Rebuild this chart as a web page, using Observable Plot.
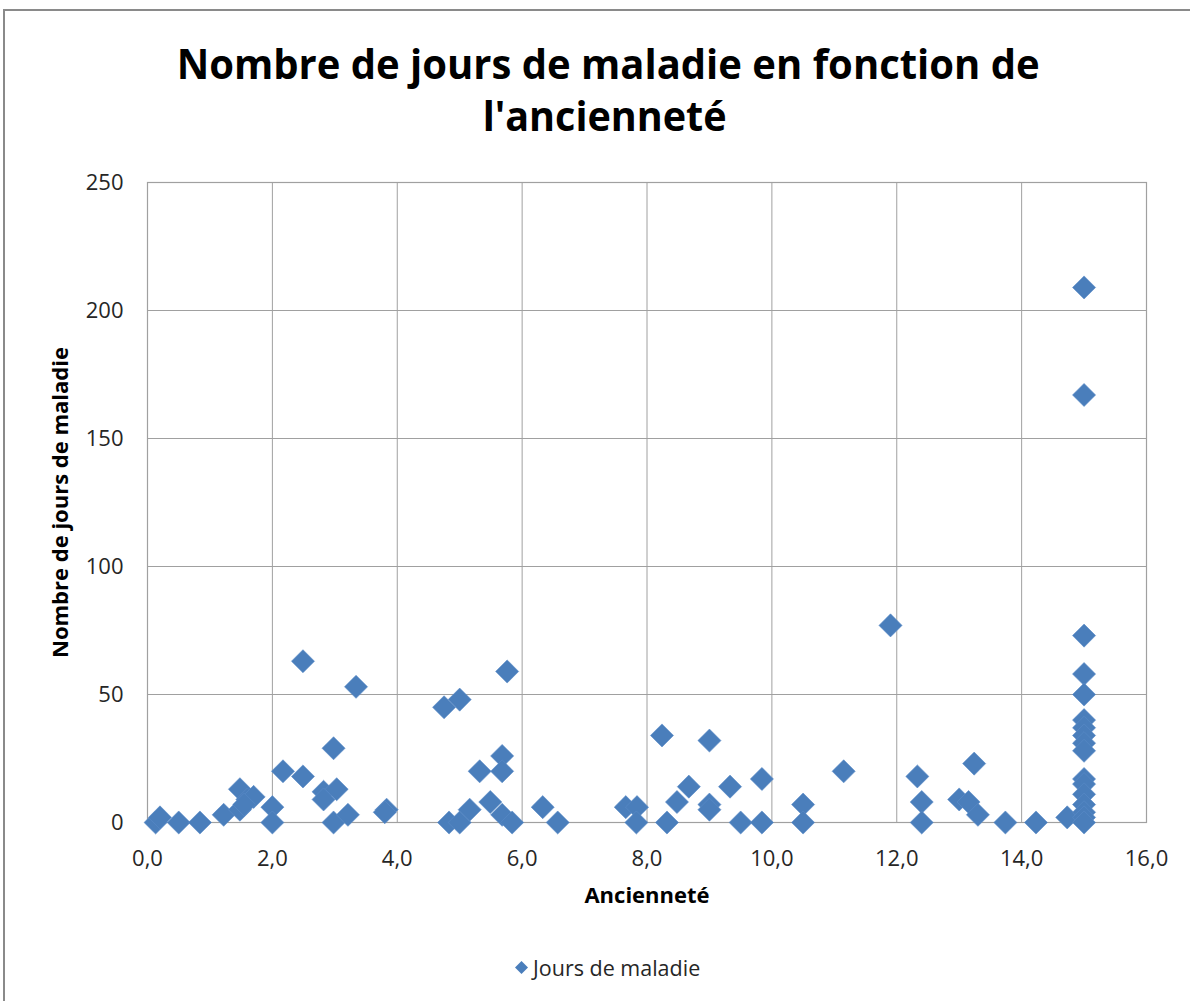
<!DOCTYPE html>
<html>
<head>
<meta charset="utf-8">
<script src="https://cdn.jsdelivr.net/npm/d3@7"></script>
<script src="https://cdn.jsdelivr.net/npm/@observablehq/plot@0.6"></script>
<style>
  html, body { margin: 0; padding: 0; background: #fff; }
  #wrap { position: relative; width: 1190px; height: 1001px; overflow: hidden; font-family: "Open Sans", sans-serif; }
  #border { position: absolute; left: 3px; top: 9px; width: 1200px; height: 1010px; border-left: 2px solid #8a8a8a; border-top: 2px solid #8a8a8a; box-sizing: border-box; }
  #head { position: relative; height: 160px; }
  .tline { position: absolute; left: 0; width: 1190px; text-align: center; font-weight: 700; font-size: 42px; line-height: 52px; color: #000; white-space: nowrap; }
  .tline span { display: inline-block; transform-origin: center center; }
  #legend { position: relative; height: 61px; }
  #legend .item { position: absolute; left: 514px; top: 13px; display: flex; align-items: center; font-size: 21.5px; color: #262626; }
  #legend svg { margin-right: 4px; }
</style>
</head>
<body>
<div id="wrap">
  <div id="border"></div>
  <div id="head">
    <div class="tline" id="t1" style="top:37px;left:13px"><span>Nombre de jours de maladie en fonction de</span></div>
    <div class="tline" id="t2" style="top:89px;left:10px"><span>l'ancienneté</span></div>
  </div>
  <div id="chart"></div>
  <div id="legend"><div class="item"><svg width="15" height="15" viewBox="-7.5 -7.5 15 15"><path d="M0,-6.5L6.5,0L0,6.5L-6.5,0Z" fill="#4a7ebb"/></svg><span>Jours de maladie</span></div></div>
</div>
<script>
// Ancienneté (years) and number of sick days
const anciennete = [
  0.13, 0.2, 0.5, 0.84, 1.22, 1.48, 1.48, 1.6, 1.7, 1.55,
  2.0, 2.0, 2.17, 2.49, 2.49, 2.82, 2.82, 2.98, 3.03, 2.98,
  3.21, 3.34, 3.83, 3.8, 4.75, 4.83, 5.0, 5.0, 5.16, 5.32,
  5.49, 5.68, 5.68, 5.68, 5.76, 5.84, 6.33, 6.57, 7.66, 7.84,
  7.83, 8.24, 8.32, 8.48, 8.67, 9.0, 9.0, 9.0, 9.33, 9.5,
  9.84, 9.84, 10.5, 10.5, 11.15, 11.9, 12.33, 12.4, 12.4, 13.0,
  13.15, 13.24, 13.3, 13.74, 14.23, 14.73,
  15, 15, 15, 15, 15, 15, 15, 15, 15, 15, 15, 15, 15, 15, 15, 15, 15
];
const joursMaladie = [
  0, 2, 0, 0, 3, 13, 5, 9, 10, 7,
  6, 0, 20, 63, 18, 12, 9, 29, 13, 0,
  3, 53, 5, 4, 45, 0, 48, 0, 5, 20,
  8, 26, 20, 3, 59, 0, 6, 0, 6, 6,
  0, 34, 0, 8, 14, 32, 7, 5, 14, 0,
  17, 0, 7, 0, 20, 77, 18, 8, 0, 9,
  8, 23, 3, 0, 0, 2,
  209, 167, 73, 58, 50, 40, 37, 34, 31, 28, 17, 15, 11, 7, 4, 2, 0
];
const xTicks = [0, 2, 4, 6, 8, 10, 12, 14, 16];
const yTicks = [0, 50, 100, 150, 200, 250];
const xLabel = "Ancienneté";
const yLabel = "Nombre de jours de maladie";

const data = anciennete.map((a, i) => ({anciennete: a, jours: joursMaladie[i]}));
const grid = "#a0a0a0";
const fmtX = d => d.toFixed(1).replace(".", ",");

const chart = Plot.plot({
  width: 1190,
  height: 780,
  marginLeft: 147,
  marginRight: 44,
  marginTop: 22,
  marginBottom: 118,
  style: {fontFamily: "Open Sans, sans-serif", fontSize: "22px", color: "#262626", background: "#fff", overflow: "visible"},
  x: {domain: [0, 16]},
  y: {domain: [0, 250]},
  marks: [
    Plot.gridX(xTicks, {stroke: grid, strokeOpacity: 1, strokeWidth: 1}),
    Plot.gridY(yTicks, {stroke: grid, strokeOpacity: 1, strokeWidth: 1}),
    Plot.frame({stroke: grid, strokeWidth: 1.2}),
    Plot.axisX(xTicks, {tickSize: 0, tickPadding: 28, tickFormat: fmtX, label: null}),
    Plot.axisY(yTicks, {tickSize: 0, tickPadding: 24, label: null}),
    Plot.dot(data, {x: "anciennete", y: "jours", symbol: "diamond2", r: 10.4, fill: "#4a7ebb", stroke: "#5a8cc8", strokeWidth: 0.6}),
    Plot.text([xLabel], {frameAnchor: "bottom", dy: 80, fontWeight: "bold", fontSize: 22, fill: "#000"}),
    Plot.text([yLabel], {frameAnchor: "left", textAnchor: "middle", dx: -87, rotate: -90, fontWeight: "bold", fontSize: 22, fill: "#000"})
  ]
});
document.getElementById("chart").appendChild(chart);

// fit title lines to the reference widths
function fit(id, target) {
  const s = document.querySelector("#" + id + " span");
  const w = s.getBoundingClientRect().width;
  s.style.transform = `scaleX(${target / w})`;
}
fit("t1", 863);
fit("t2", 244);
</script>
</body>
</html>
